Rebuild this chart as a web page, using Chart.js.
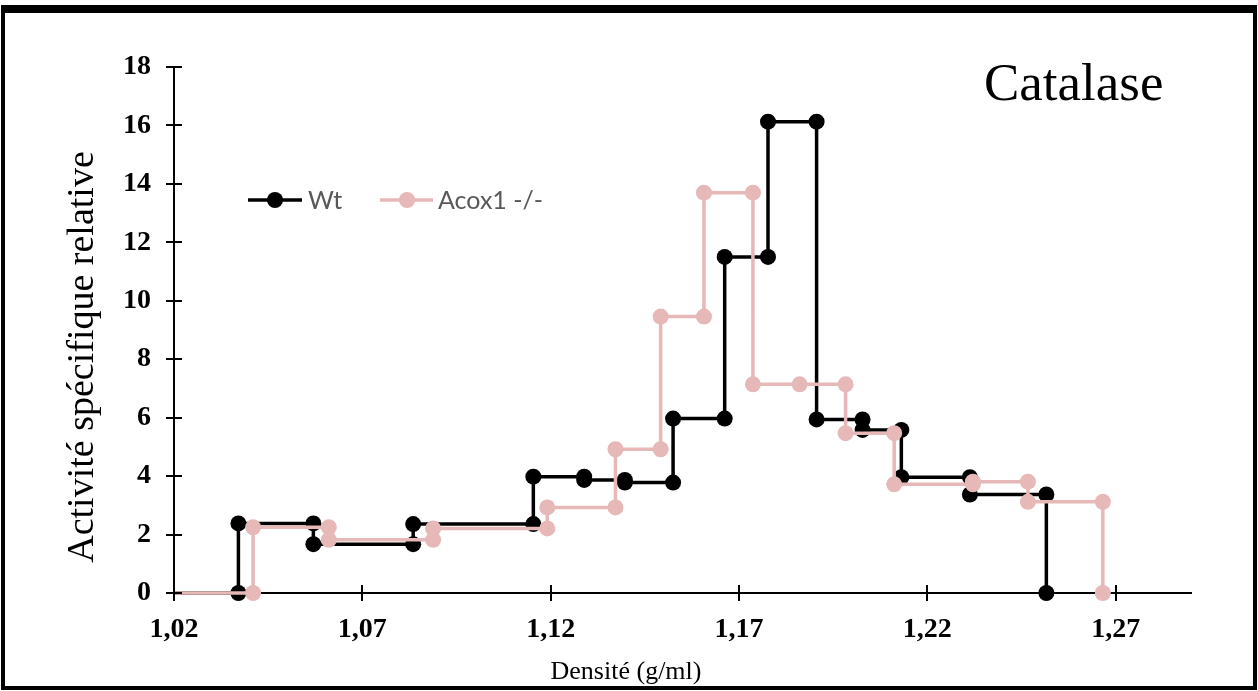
<!DOCTYPE html>
<html lang="fr">
<head>
    <meta charset="UTF-8">
    <title>Catalase</title>
    <script src="https://cdn.jsdelivr.net/npm/chart.js@4.4.0/dist/chart.umd.min.js"></script>
    <style>
        body { margin: 0; background: #fff; }
        #wrap { position: relative; width: 1258px; height: 691px; }
        #frame {
            position: absolute; left: 1px; top: 5px; width: 1256px; height: 685px;
            box-sizing: border-box; border: 4px solid #000; border-top-width: 8px;
            pointer-events: none;
        }
    </style>
</head>
<body>
<div id="wrap">
    <canvas id="chart" width="1258" height="691"></canvas>
    <div id="frame"></div>
</div>
<script>
    // densité (g/ml) / activité spécifique relative
    var wtDensity = [1.02, 1.0371, 1.0371, 1.0570, 1.0570, 1.0835, 1.0835, 1.1154, 1.1154, 1.1289, 1.1289,
        1.1397, 1.1397, 1.1525, 1.1525, 1.1662, 1.1662, 1.1777, 1.1777, 1.1906, 1.1906, 1.2028, 1.2028,
        1.2131, 1.2131, 1.2313, 1.2313, 1.2516, 1.2516];
    var wtActivity = [0, 0, 2.38, 2.38, 1.67, 1.67, 2.36, 2.36, 3.98, 3.98, 3.87, 3.87, 3.78, 3.78,
        5.97, 5.97, 11.5, 11.5, 16.13, 16.13, 5.94, 5.94, 5.58, 5.58, 3.96, 3.96, 3.37, 3.37, 0];

    var acoxDensity = [1.02, 1.0410, 1.0410, 1.0611, 1.0611, 1.0888, 1.0888, 1.1191, 1.1191, 1.1372, 1.1372,
        1.1492, 1.1492, 1.1607, 1.1607, 1.1737, 1.1737, 1.1861, 1.1983, 1.1983, 1.2112, 1.2112,
        1.2321, 1.2321, 1.2467, 1.2467, 1.2666, 1.2666];
    var acoxActivity = [0, 0, 2.25, 2.25, 1.82, 1.82, 2.21, 2.21, 2.93, 2.93, 4.92, 4.92, 9.46, 9.46,
        13.70, 13.70, 7.14, 7.14, 7.14, 5.47, 5.47, 3.72, 3.72, 3.81, 3.81, 3.12, 3.12, 0];

    var xTicks = [1.02, 1.07, 1.12, 1.17, 1.22, 1.27];
    var yTicks = [0, 2, 4, 6, 8, 10, 12, 14, 16, 18];
    var seriesNames = ['Wt', 'Acox1 -/-'];
    var seriesColors = ['#000000', '#E6B8B7'];

    function toPoints(xs, ys) {
        return xs.map(function (x, i) { return { x: x, y: ys[i] }; });
    }
    // no marker on the leading baseline point
    function radii(n) {
        var r = [];
        for (var i = 0; i < n; i++) r.push(i === 0 ? 0 : 8);
        return r;
    }

    var serif = '"Liberation Serif", "Times New Roman", serif';

    var extras = {
        id: 'extras',
        afterDraw: function (chart) {
            var ctx = chart.ctx;
            var xs = chart.scales.x, ys = chart.scales.y;
            var area = chart.chartArea;
            ctx.save();
            // crossing tick marks
            ctx.strokeStyle = '#000';
            ctx.lineWidth = 2;
            yTicks.forEach(function (v) {
                var py = Math.round(ys.getPixelForValue(v));
                ctx.beginPath();
                ctx.moveTo(area.left - 8, py);
                ctx.lineTo(area.left + 8, py);
                ctx.stroke();
            });
            xTicks.forEach(function (v) {
                var px = Math.round(xs.getPixelForValue(v));
                ctx.beginPath();
                ctx.moveTo(px, area.bottom - 8);
                ctx.lineTo(px, area.bottom + 8);
                ctx.stroke();
            });

            // axis titles
            ctx.fillStyle = '#000';
            ctx.font = '38px ' + serif;
            ctx.textAlign = 'center';
            ctx.textBaseline = 'middle';
            ctx.save();
            ctx.translate(83, 357);
            ctx.rotate(-Math.PI / 2);
            ctx.fillText('Activité spécifique relative', 0, 0);
            ctx.restore();

            ctx.font = '26px ' + serif;
            ctx.fillText('Densité (g/ml)', 626, 672);

            ctx.font = '53px ' + serif;
            ctx.textAlign = 'left';
            ctx.fillText('Catalase', 984, 86);

            // legend
            var items = [
                { x0: 248, x1: 302, m: 275, tx: 308 },
                { x0: 380, x1: 433, m: 407, tx: 438 }
            ];
            ctx.font = '25px Lato, "Open Sans", sans-serif';
            items.forEach(function (it, i) {
                ctx.strokeStyle = seriesColors[i];
                ctx.fillStyle = seriesColors[i];
                ctx.lineWidth = 3.5;
                ctx.beginPath();
                ctx.moveTo(it.x0, 200);
                ctx.lineTo(it.x1, 200);
                ctx.stroke();
                ctx.beginPath();
                ctx.arc(it.m, 200, 8, 0, Math.PI * 2);
                ctx.fill();
                ctx.fillStyle = '#595959';
                ctx.fillText(seriesNames[i], it.tx, 201);
            });
            ctx.restore();
        }
    };

    new Chart(document.getElementById('chart'), {
        type: 'line',
        data: {
            datasets: [{
                label: seriesNames[0],
                data: toPoints(wtDensity, wtActivity),
                borderColor: seriesColors[0],
                backgroundColor: seriesColors[0],
                borderWidth: 3.5,
                pointRadius: radii(wtDensity.length),
                pointBorderWidth: 0,
                pointBackgroundColor: seriesColors[0],
                tension: 0,
                clip: false,
                order: 1
            }, {
                label: seriesNames[1],
                data: toPoints(acoxDensity, acoxActivity),
                borderColor: seriesColors[1],
                backgroundColor: seriesColors[1],
                borderWidth: 3.5,
                pointRadius: radii(acoxDensity.length),
                pointBorderWidth: 0,
                pointBackgroundColor: seriesColors[1],
                tension: 0,
                clip: false,
                order: 0
            }]
        },
        options: {
            responsive: false,
            animation: false,
            events: [],
            layout: { padding: { top: 67, right: 67, left: 0, bottom: 0 } },
            plugins: {
                legend: { display: false },
                tooltip: { enabled: false }
            },
            scales: {
                x: {
                    type: 'linear',
                    min: 1.02,
                    max: 1.29,
                    afterBuildTicks: function (scale) {
                        scale.ticks = xTicks.map(function (v) { return { value: v }; });
                    },
                    afterFit: function (scale) { scale.height = 98; },
                    grid: { display: false },
                    border: { display: true, color: '#000', width: 2 },
                    ticks: {
                        padding: 12,
                        color: '#000',
                        font: { family: serif, size: 28, weight: 'bold' },
                        callback: function (v) { return v.toFixed(2).replace('.', ','); }
                    }
                },
                y: {
                    min: 0,
                    max: 18,
                    afterBuildTicks: function (scale) {
                        scale.ticks = yTicks.map(function (v) { return { value: v }; });
                    },
                    afterFit: function (scale) { scale.width = 174; },
                    grid: { display: false },
                    border: { display: true, color: '#000', width: 2 },
                    ticks: {
                        padding: 15,
                        color: '#000',
                        font: { family: serif, size: 28, weight: 'bold' }
                    }
                }
            }
        },
        plugins: [extras]
    });
</script>
</body>
</html>
